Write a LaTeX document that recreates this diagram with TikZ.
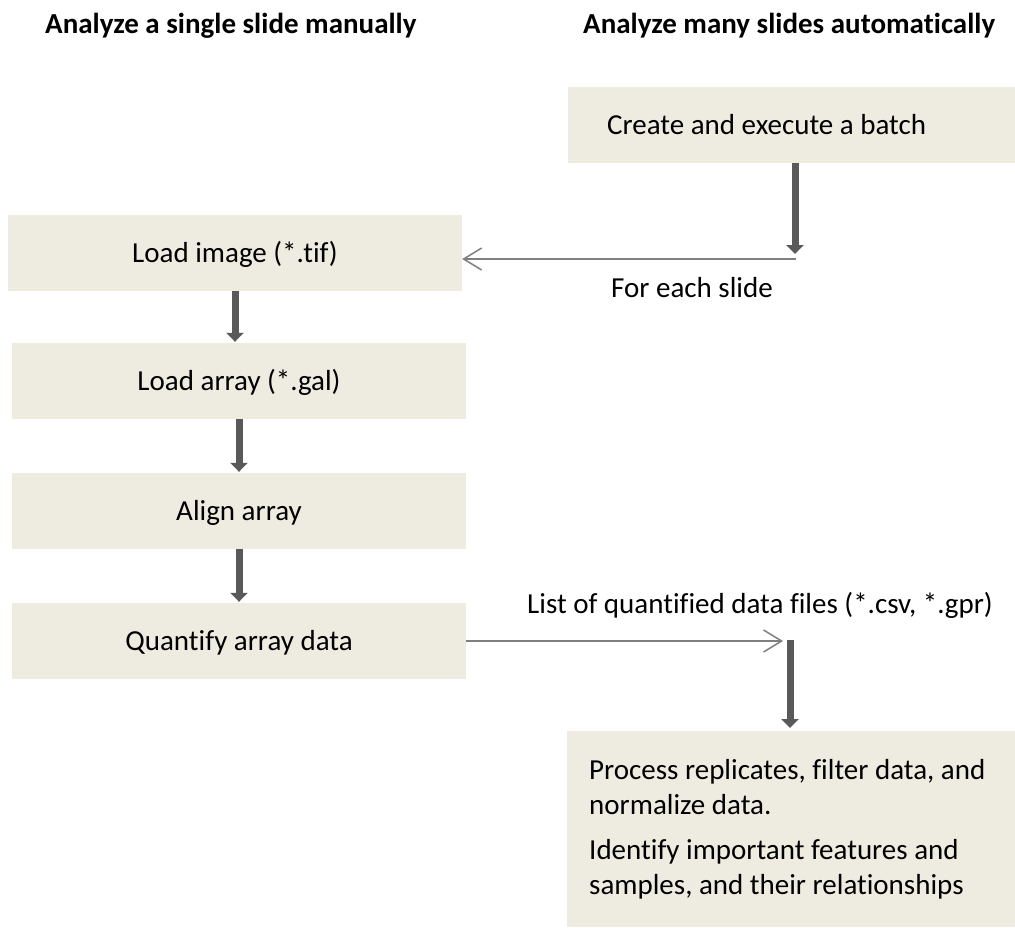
\documentclass[tikz,border=0pt]{standalone}
\usepackage{fontspec}
\setmainfont{Carlito}[Ligatures=NoCommon]
\usetikzlibrary{arrows.meta}
\definecolor{boxfill}{HTML}{EEECE1}
\definecolor{thickgray}{HTML}{595959}
\definecolor{thingray}{HTML}{7F7F7F}
\begin{document}
\begin{tikzpicture}[x=1pt,y=-1pt,
  every node/.style={font=\fontsize{29}{35}\selectfont, inner sep=0pt},
  leftbox/.style={fill=boxfill, minimum width=454pt, minimum height=76pt, text height=18.7pt, text depth=0pt},
  bigarrow/.style={draw=thickgray, line width=7pt, -{Triangle[width=17pt,length=9pt]}},
  thinarrow/.style={draw=thingray, line width=1.5pt, -{Straight Barb[length=18pt,width=22pt,line width=1.5pt]}},
  hdr/.style={font=\fontsize{29}{35}\selectfont\bfseries, anchor=base west},
]
\useasboundingbox (0,0) rectangle (1015,927);
\fill[white] (0,0) rectangle (1015,927);

\node[hdr] (h1) at (45,33) {Analyze a single slide manually};
\node[hdr] (h2) at (583,33) {Analyze many slides automatically};

\node[leftbox] (limg) at (235,253) {Load image (*.tif)};
\node[leftbox] (larr) at (239,381) {Load array (*.gal)};
\node[leftbox] (align) at (239,511) {Align array};
\node[leftbox] (quant) at (239,641) {Quantify array data};

\node[fill=boxfill, anchor=west, minimum height=76pt, text width=400pt, inner xsep=39pt, inner ysep=0pt, align=flush left, text height=18.7pt, text depth=0pt] (create) at (568,125) {Create and execute a batch};

\node[fill=boxfill, anchor=north west, text width=420pt, inner xsep=22pt, inner ysep=0pt, minimum height=196pt, align=flush left] (proc) at (567,731) {Process replicates, filter data, and\\normalize data.\\[10pt]Identify important features and\\samples, and their relationships};

\draw[bigarrow, shorten >=1pt] (limg.south) -- (limg.south |- larr.north);
\draw[bigarrow, shorten >=1pt] (larr.south) -- (larr.south |- align.north);
\draw[bigarrow, shorten >=1pt] (align.south) -- (align.south |- quant.north);

\coordinate (c1) at (796,259);
\coordinate (c1t) at (795,254);
\draw[bigarrow] (create.south -| c1t) -- (c1t);
\draw[thinarrow] (c1) -- (limg.east |- c1);
\node[anchor=base] (each) at (692,297) {For each slide};

\coordinate (c2) at (783,641);
\draw[thinarrow] (quant.east) -- (c2);
\coordinate (c3) at (790,640);
\draw[bigarrow, shorten >=3pt] (c3) -- (proc.north -| c3);
\node[anchor=base west] (list) at (527,613) {List of quantified data files (*.csv, *.gpr)};
\end{tikzpicture}
\end{document}
